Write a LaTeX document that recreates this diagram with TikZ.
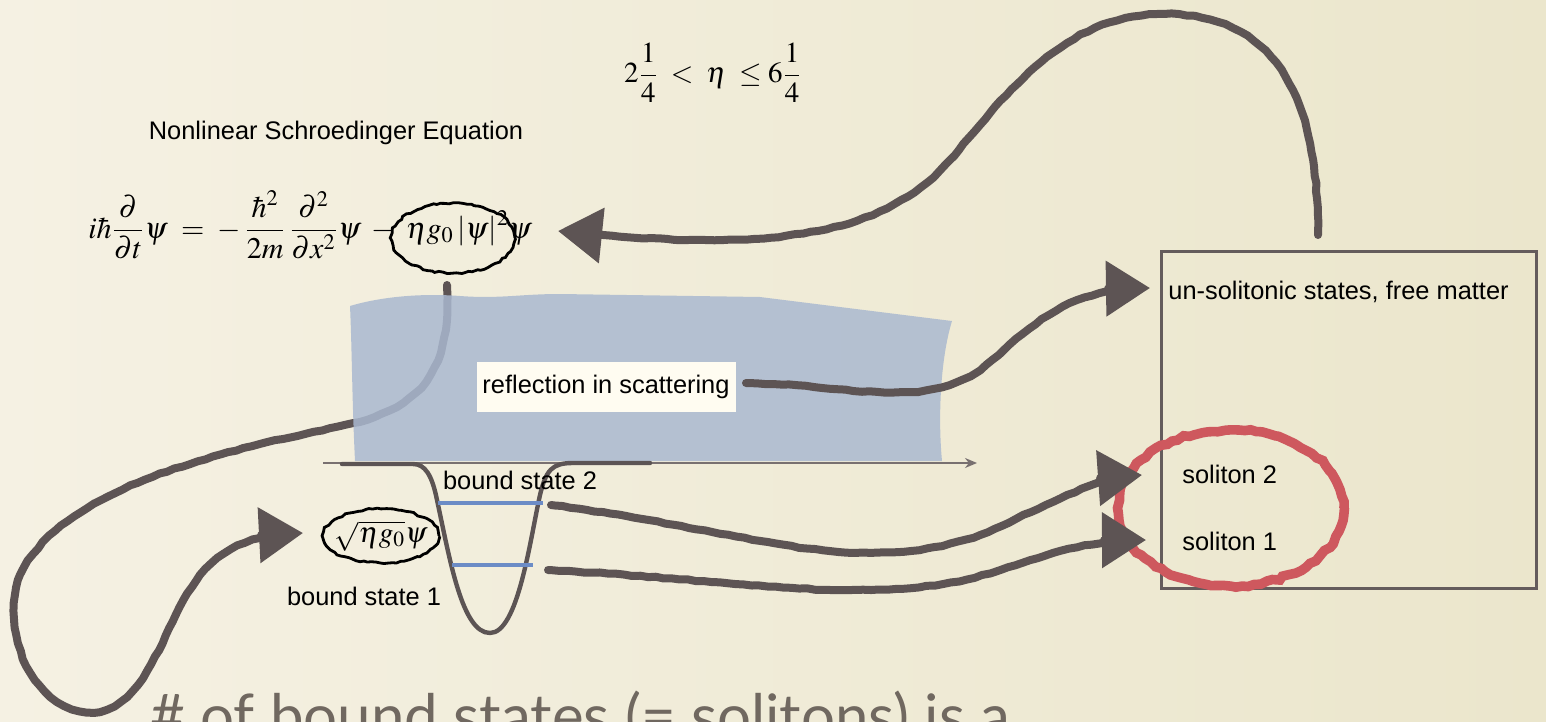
\documentclass[tikz,border=0pt]{standalone}
\usepackage{mathptmx}
\usepackage[no-math]{fontspec}
\setmainfont{Liberation Sans}
\newfontfamily\bigfont{Lato}
\usetikzlibrary{arrows.meta,shapes.geometric,decorations.pathmorphing,calc}
\definecolor{bgl}{RGB}{245,241,227}
\definecolor{bgr}{RGB}{235,230,204}
\definecolor{chalkc}{RGB}{93,84,84}
\definecolor{blueR}{RGB}{170,185,208}
\definecolor{levelc}{RGB}{108,140,198}
\definecolor{wellc}{RGB}{92,84,84}
\definecolor{boxc}{RGB}{100,92,92}
\definecolor{redc}{RGB}{206,88,94}
\definecolor{axisc}{RGB}{120,112,112}
\definecolor{bottomc}{RGB}{112,104,96}
\definecolor{reflbg}{RGB}{255,252,241}
\tikzset{
  chalk/.style={draw=chalkc, line width=4pt, line cap=round, line join=round,
    decorate, decoration={random steps, segment length=4pt, amplitude=0.3pt, pre length=2pt, post length=6pt},
    -{Triangle[length=22pt,width=27pt]}},
  lbl/.style={inner sep=0pt, text=black, font=\fontsize{12.7}{15}\selectfont},
  mathlbl/.style={inner sep=0pt, text=black, font=\fontsize{14.5}{17}\selectfont},
  eqlbl/.style={inner sep=0pt, text=black, font=\fontsize{15}{18}\selectfont},
  scribble/.style={ellipse, draw=black, line width=1.4pt,
    decorate, decoration={random steps, segment length=2pt, amplitude=0.5pt}},
  redring/.style={ellipse, draw=redc, line width=4.8pt,
    decorate, decoration={random steps, segment length=3pt, amplitude=0.7pt}},
  level/.style={draw=levelc, line width=2pt},
}
\begin{document}
\begin{tikzpicture}[x=0.5pt,y=-0.5pt]
\useasboundingbox (0,0) rectangle (1546,722);
\clip (0,0) rectangle (1546,722);
\shade[left color=bgl, right color=bgr] (0,0) rectangle (1546,722);

% texts
\node[lbl] (nls) at (336,133) {Nonlinear Schroedinger Equation};
\node[mathlbl] (ineq) at (713,73) {$\displaystyle 2\frac{1}{4}\;<\;\eta\;\le 6\frac{1}{4}$};
\node[eqlbl, anchor=west] (eq) at (88,225)
  {$\displaystyle i\hbar\frac{\partial}{\partial t}\psi \;=\; -\,\frac{\hbar^2}{2m}\,\frac{\partial^2}{\partial x^2}\psi \;-\; \eta g_0\,|\psi|^2\psi$};
\node[scribble, minimum width=62pt, minimum height=35pt] (nlterm) at (453,238) {};

% connector under the blue region
\coordinate (a2s) at (447,285);
\coordinate (a2e) at (303,533);
\draw[chalk] (a2s) .. controls (450,360) and (430,405) .. (353,423)
  .. controls (250,447) and (60,480) .. (18,580)
  .. controls (0,640) and (40,720) .. (100,712)
  .. controls (150,700) and (165,620) .. (200,575)
  .. controls (225,545) and (255,535) .. (a2e);

% blue region
\fill[blueR, opacity=0.85] (350,306) .. controls (380,297) and (420,293) .. (460,296)
  .. controls (500,299) and (520,294) .. (560,294) -- (760,297) -- (952,321)
  .. controls (940,360) and (938,420) .. (942,461) -- (355,461)
  .. controls (352,400) and (352,350) .. cycle;

% axis
\coordinate (ax0) at (323,463);
\coordinate (ax1) at (977,463);
\draw[axisc, line width=0.8pt, -{Stealth[length=6pt,width=5pt]}] (ax0) -- (ax1);

% well
\draw[wellc, line width=2.2pt, line cap=round] (342,464) -- (413,464)
  .. controls (425,464) and (432,475) .. (437,500)
  .. controls (450,560) and (462,633) .. (490,633)
  .. controls (518,633) and (530,540) .. (540,495)
  .. controls (546,470) and (552,463) .. (573,463) -- (650,463);
\draw[level] (438,503) -- (543,503);
\draw[level] (452,565) -- (533,565);

\node[lbl] (bs2) at (520,480) {bound state 2};
\node[lbl] (bs1) at (364,596) {bound state 1};
\node[mathlbl] (amp) at (381,536) {$\sqrt{\eta g_0}\psi$};
\node[scribble, minimum width=58pt, minimum height=27pt] (ampring) at (381,536) {};

% reflection label
\node[lbl, fill=reflbg, minimum width=129.5pt, minimum height=25pt] (refl) at (606,387) {reflection in scattering};

% right box
\node[draw=boxc, line width=1.3pt, minimum width=187.5pt, minimum height=168.5pt, anchor=north west, inner sep=0pt] (box) at (1160,250) {};
\node[lbl, anchor=west] (free) at (1168,292) {un-solitonic states, free matter};
\node[lbl, anchor=west] (sol2) at (1182,474) {soliton 2};
\node[lbl, anchor=west] (sol1) at (1182,541) {soliton 1};
\node[redring, minimum width=113pt, minimum height=78pt] (ring) at (1231,508) {};

% connectors
\coordinate (a1s) at (1318,235);
\coordinate (a1e) at (558,231);
\draw[chalk] (a1s) .. controls (1318,120) and (1290,15) .. (1165,14)
  .. controls (1065,14) and (1010,90) .. (950,160)
  .. controls (880,240) and (760,252) .. (a1e);

\coordinate (a3s) at (746,383);
\coordinate (a3e) at (1150,288);
\draw[chalk] (a3s) .. controls (850,385) and (920,410) .. (980,370)
  .. controls (1030,330) and (1060,288) .. (a3e);

\coordinate (a4s) at (551,505);
\coordinate (a4e) at (1142,475);
\draw[chalk] (a4s) .. controls (750,530) and (850,580) .. (980,535)
  .. controls (1050,505) and (1090,478) .. (a4e);

\coordinate (a5s) at (548,570);
\coordinate (a5e) at (1146,540);
\draw[chalk] (a5s) .. controls (750,580) and (880,610) .. (1000,570)
  .. controls (1060,550) and (1095,540) .. (a5e);

% bottom text (cut off)
\node[anchor=base west, inner sep=0pt, text=bottomc, font=\bigfont\fontsize{30}{33}\selectfont] (bottom) at (150,737)
  {\# of bound states (= solitons) is a};
\end{tikzpicture}
\end{document}
